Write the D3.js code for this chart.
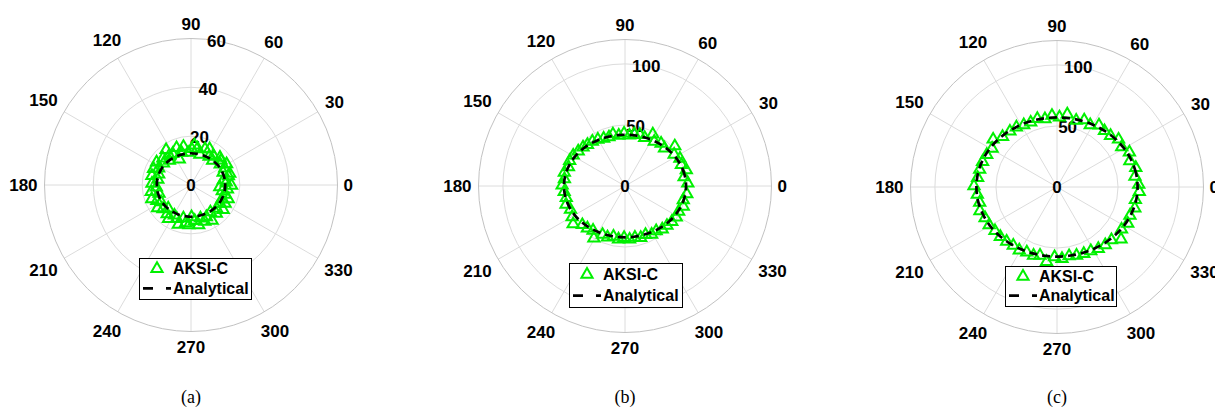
<!DOCTYPE html>
<html>
<head>
<meta charset="utf-8">
<script src="https://cdn.jsdelivr.net/npm/d3@7"></script>
<style>
  html, body { margin: 0; padding: 0; background: #fff; }
  svg { display: block; }
</style>
</head>
<body>
<svg id="chart" width="1215" height="408"></svg>
<script>
// ---- data -------------------------------------------------------------
const panelLabels = ["(a)", "(b)", "(c)"];
const legendLabels = ["AKSI-C", "Analytical"];
const angleTicks = [0, 30, 60, 90, 120, 150, 180, 210, 240, 270, 300, 330];
const radialLimits = [60, 120, 120];
const radialTicksA = [0, 20, 40, 60];
const radialTicksB = [0, 50, 100];
const radialTicksC = [0, 50, 100];

// analytical solution, sampled every 10 degrees
const analyticalTheta = [0, 10, 20, 30, 40, 50, 60, 70, 80, 90, 100, 110, 120, 130, 140, 150, 160, 170,
  180, 190, 200, 210, 220, 230, 240, 250, 260, 270, 280, 290, 300, 310, 320, 330, 340, 350];
const analyticalA = [14, 14, 13.9, 13.8, 13.6, 13.4, 13.2, 13.1, 13, 13, 13, 13.1, 13.2, 13.4, 13.6, 13.8, 13.9, 14,
  14, 14, 13.9, 13.8, 13.6, 13.4, 13.2, 13.1, 13, 13, 13, 13.1, 13.2, 13.4, 13.6, 13.8, 13.9, 14];
const analyticalB = [50, 49.7, 48.8, 47.6, 46.2, 44.8, 43.6, 42.7, 42.2, 42, 42.2, 42.7, 43.6, 44.8, 46.2, 47.6, 48.8, 49.7,
  50, 49.7, 48.8, 47.6, 46.2, 44.8, 43.6, 42.7, 42.2, 42, 42.2, 42.7, 43.6, 44.8, 46.2, 47.6, 48.8, 49.7];
const analyticalC = [66, 65.7, 64.7, 63.4, 61.8, 60.2, 58.9, 57.9, 57.2, 57, 57.2, 57.9, 58.9, 60.2, 61.8, 63.4, 64.7, 65.7,
  66, 65.7, 64.7, 63.4, 61.8, 60.2, 58.9, 57.9, 57.2, 57, 57.2, 57.9, 58.9, 60.2, 61.8, 63.4, 64.7, 65.7];

// AKSI-C estimates (angle in degrees, radius)
const aksiThetaA = [0, 5, 9, 14, 17, 22, 27, 31, 36, 40, 44, 49, 53, 58, 63, 69, 74, 80, 85, 89, 95, 101, 106, 111, 114,
  120, 125, 126, 131, 136, 141, 146, 152, 156, 161, 166, 170, 177, 183, 189, 194, 199, 204, 209, 214, 220, 225, 230,
  236, 241, 247, 252, 257, 262, 267, 271, 276, 281, 286, 291, 296, 301, 306, 312, 318, 323, 328, 332, 336, 340, 345,
  350, 354, 357];
const aksiRadiusA = [16.6, 14.5, 13.4, 15.8, 16.6, 14.2, 15.5, 17, 14.8, 16, 16.5, 13.5, 15.2, 14, 16.8, 16, 13.2, 15.5,
  16.5, 15, 13.5, 16.2, 14, 16.5, 11.8, 15, 17.8, 15.2, 13.5, 16, 14.5, 17, 15, 16.8, 14, 16.5, 13.8, 16, 14.2, 16.5,
  13.5, 17, 15.3, 14, 16.5, 15, 13.2, 15.2, 16.5, 14, 14.8, 16.8, 13.8, 15.5, 16.2, 12.9, 14.5, 16.5, 14, 15.8, 14.4,
  16.8, 13.5, 15.5, 14.1, 16.5, 14, 15.8, 13.8, 16.2, 14.5, 13, 15, 11.8];

const aksiThetaB = [3, 9, 15, 21, 27, 33, 39, 44, 50, 57, 62, 68, 74, 80, 85, 91, 97, 103, 108, 114, 120, 126, 132, 137,
  143, 149, 155, 161, 167, 173, 179, 185, 191, 197, 203, 210, 216, 222, 228, 234, 239, 245, 251, 257, 263, 269, 275,
  281, 287, 293, 299, 305, 311, 317, 323, 329, 335, 341, 347, 353];
const aksiRadiusB = [51.5, 49, 52, 49.5, 50.5, 48, 52.5, 45, 46, 44, 48.5, 43, 44, 43.5, 42, 43.5, 42, 44, 42.5, 43, 44.5,
  45.5, 46, 47, 48, 49.5, 50, 49, 51, 50, 51.5, 50, 49, 50.5, 48.5, 50, 52.5, 47, 46, 44.5, 49.5, 43.5, 44, 42, 43.5,
  42, 43.5, 42.5, 44, 43, 45, 44.5, 46.5, 47, 48, 49, 48.5, 50.5, 49, 51];

const aksiThetaC = [2, 8, 14, 20, 26, 32, 38, 44, 50, 56, 62, 68, 74, 82, 88, 94, 100, 106, 112, 118, 124, 130, 137, 143,
  149, 155, 161, 167, 173, 179, 185, 191, 197, 203, 209, 215, 221, 227, 233, 239, 245, 251, 256, 262, 268, 274, 280,
  286, 292, 298, 304, 310, 316, 321, 327, 333, 339, 345, 351, 357];
const aksiRadiusC = [67, 64.5, 66.5, 63.5, 66, 62.5, 64, 61, 60.5, 61.5, 58, 59.5, 57, 60.5, 57.5, 59, 57, 58.5, 57.5, 58,
  59.5, 60, 61, 65.5, 62, 63.5, 64.5, 65, 65.5, 68, 65.5, 64.5, 66, 64, 63.5, 62, 61.5, 60.5, 59.5, 60, 58.5, 59, 57.5,
  61.5, 57, 58.5, 57, 58, 58.5, 59, 60.5, 61.5, 62, 67.5, 63, 65, 64, 66, 65, 67.5];

// ---- layout -----------------------------------------------------------
const panels = [
  { cx: 191, cy: 185, rTicks: radialTicksA, theta: aksiThetaA, radius: aksiRadiusA, analytical: analyticalA,
    legend: { x: 139, y: 258, w: 112, h: 41 } },
  { cx: 625, cy: 186, rTicks: radialTicksB, theta: aksiThetaB, radius: aksiRadiusB, analytical: analyticalB,
    legend: { x: 569, y: 263, w: 113, h: 44 } },
  { cx: 1057, cy: 187, rTicks: radialTicksC, theta: aksiThetaC, radius: aksiRadiusC, analytical: analyticalC,
    legend: { x: 1005, y: 266, w: 111, h: 40 } }
];
const R = 146.5;
const GREEN = "#00f000";
const gridColor = "#dcdcdc";
const edgeColor = "#c2c2c2";
const tickFont = "bold 17px 'Liberation Sans', Arial, Helvetica, sans-serif";

const svg = d3.select("#chart");
const rad = d => d * Math.PI / 180;
const trianglePath = "M0,-6L5.6,3.7L-5.6,3.7Z";

// canvas context for measuring label widths
const measureCtx = document.createElement("canvas").getContext("2d");
measureCtx.font = tickFont;

panels.forEach((p, i) => {
  const rScale = d3.scaleLinear().domain([0, radialLimits[i]]).range([0, R]);
  const px = (deg, r) => p.cx + rScale(r) * Math.cos(rad(deg));
  const py = (deg, r) => p.cy - rScale(r) * Math.sin(rad(deg));
  const g = svg.append("g");

  // radial spokes
  g.selectAll("line.spoke").data(angleTicks).join("line")
    .attr("x1", p.cx).attr("y1", p.cy)
    .attr("x2", d => px(d, radialLimits[i])).attr("y2", d => py(d, radialLimits[i]))
    .attr("stroke", gridColor).attr("stroke-width", 1);

  // rings at radial ticks
  g.selectAll("circle.ring").data(p.rTicks.filter(t => t > 0 && t < radialLimits[i])).join("circle")
    .attr("cx", p.cx).attr("cy", p.cy).attr("r", d => rScale(d))
    .attr("fill", "none").attr("stroke", gridColor).attr("stroke-width", 1);

  // outer edge
  g.append("circle").attr("cx", p.cx).attr("cy", p.cy).attr("r", rScale(radialLimits[i]))
    .attr("fill", "none").attr("stroke", edgeColor).attr("stroke-width", 1);

  // angular tick labels, pushed out so their boxes clear the edge
  const labelDist = d => {
    const w = measureCtx.measureText(String(d)).width / 2;
    return 152 + 1.1 * w * Math.abs(Math.cos(rad(d))) + 9.5 * Math.abs(Math.sin(rad(d)));
  };
  g.selectAll("text.ang").data(angleTicks).join("text")
    .attr("x", d => p.cx + labelDist(d) * Math.cos(rad(d)))
    .attr("y", d => p.cy - labelDist(d) * Math.sin(rad(d)))
    .attr("text-anchor", "middle").attr("dy", "0.36em")
    .style("font", tickFont).attr("fill", "#000")
    .text(d => d);

  // radial tick labels along 80 degrees
  g.selectAll("text.rad").data(p.rTicks).join("text")
    .attr("x", d => px(80, d)).attr("y", d => py(80, d))
    .attr("text-anchor", "middle").attr("dy", "0.36em")
    .style("font", tickFont).attr("fill", "#000")
    .text(d => d);

  // AKSI-C markers
  g.selectAll("path.aksi").data(p.theta.map((t, k) => [t, p.radius[k]])).join("path")
    .attr("d", trianglePath)
    .attr("transform", d => `translate(${px(d[0], d[1])},${py(d[0], d[1])})`)
    .attr("fill", "none").attr("stroke", GREEN).attr("stroke-width", 2)
    .attr("stroke-linejoin", "miter");

  // analytical curve
  const line = d3.line()
    .x(d => px(d[0], d[1])).y(d => py(d[0], d[1]))
    .curve(d3.curveCardinalClosed);
  g.append("path")
    .datum(analyticalTheta.map((t, k) => [t, p.analytical[k]]))
    .attr("d", line)
    .attr("fill", "none").attr("stroke", "#000").attr("stroke-width", 2.7)
    .attr("stroke-dasharray", "8,5");

  // legend
  const L = p.legend;
  const lg = g.append("g").attr("transform", `translate(${L.x},${L.y})`);
  lg.append("rect").attr("x", 0.5).attr("y", 0.5).attr("width", L.w).attr("height", L.h)
    .attr("fill", "#fff").attr("stroke", "#000").attr("stroke-width", 1);
  const row1 = L.h * 0.25, row2 = L.h * 0.74;
  lg.append("path").attr("d", trianglePath)
    .attr("transform", `translate(18,${row1})`)
    .attr("fill", "none").attr("stroke", GREEN).attr("stroke-width", 2);
  lg.append("line").attr("x1", 4).attr("x2", 32).attr("y1", row2).attr("y2", row2)
    .attr("stroke", "#000").attr("stroke-width", 2.7).attr("stroke-dasharray", "10,13,5");
  lg.selectAll("text").data(legendLabels).join("text")
    .attr("x", 34).attr("y", (d, k) => k === 0 ? row1 : row2).attr("dy", "0.36em")
    .style("font", "bold 16px 'Liberation Sans', Arial, Helvetica, sans-serif")
    .attr("fill", "#000").text(d => d);

  // panel caption
  svg.append("text").attr("x", p.cx).attr("y", 403)
    .attr("text-anchor", "middle")
    .style("font", "18px 'Liberation Serif', 'Times New Roman', serif")
    .attr("fill", "#000").text(panelLabels[i]);
});
</script>
</body>
</html>
